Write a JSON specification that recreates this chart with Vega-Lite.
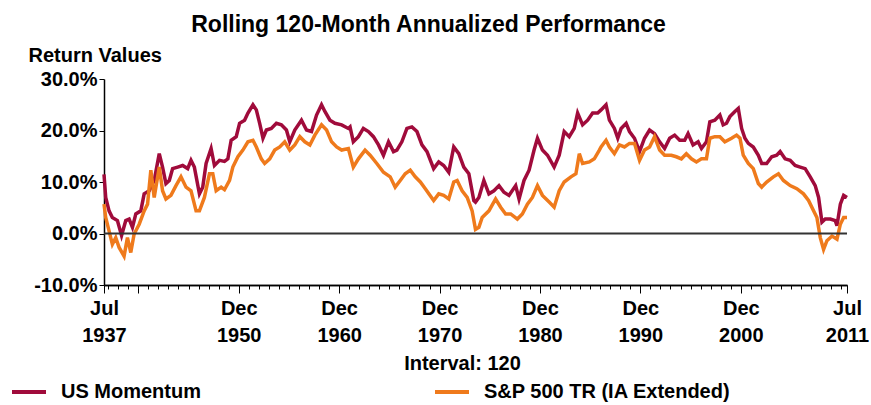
{
  "$schema": "https://vega.github.io/schema/vega-lite/v6.json",
  "width": 743,
  "height": 206,
  "autosize": "none",
  "padding": {"left": 104, "top": 79, "right": 24, "bottom": 120},
  "background": "white",
  "title": {
    "text": "Rolling 120-Month Annualized Performance",
    "fontSize": 23,
    "font": "Liberation Sans",
    "fontWeight": "bold",
    "color": "black",
    "anchor": "middle",
    "frame": "group",
    "dx": -47,
    "dy": 24,
    "offset": 14,
    "baseline": "alphabetic"
  },
  "config": {
    "font": "Liberation Sans",
    "view": {"stroke": null},
    "axis": {
      "labelFont": "Liberation Sans",
      "labelFontWeight": "bold",
      "labelFontSize": 20,
      "labelColor": "black",
      "titleFont": "Liberation Sans",
      "titleFontWeight": "bold",
      "titleFontSize": 20,
      "titleColor": "black",
      "domainColor": "black",
      "tickColor": "black",
      "domainWidth": 1.5,
      "tickWidth": 1,
      "grid": false
    },
    "legend": {
      "labelFont": "Liberation Sans",
      "labelFontWeight": "bold",
      "labelFontSize": 20,
      "labelColor": "black"
    }
  },
  "datasets": {
    "mom": [
      {"d": "1937-07", "v": 11.5}, {"d": "1937-09", "v": 7.0}, {"d": "1938-01", "v": 4.4}, {"d": "1938-05", "v": 3.1},
      {"d": "1938-11", "v": 2.5}, {"d": "1939-04", "v": -0.4}, {"d": "1939-09", "v": 2.5}, {"d": "1940-01", "v": 2.8},
      {"d": "1940-05", "v": 1.2}, {"d": "1940-09", "v": 3.8}, {"d": "1941-03", "v": 4.4}, {"d": "1941-07", "v": 7.7},
      {"d": "1942-01", "v": 8.3}, {"d": "1942-07", "v": 10.3}, {"d": "1943-01", "v": 15.5}, {"d": "1943-05", "v": 12.9},
      {"d": "1943-09", "v": 9.7}, {"d": "1944-01", "v": 10.3}, {"d": "1944-05", "v": 12.6}, {"d": "1944-11", "v": 12.9},
      {"d": "1945-05", "v": 13.2}, {"d": "1945-11", "v": 12.6}, {"d": "1946-03", "v": 14.2}, {"d": "1946-07", "v": 12.9},
      {"d": "1947-01", "v": 7.7}, {"d": "1947-05", "v": 9.0}, {"d": "1947-09", "v": 13.6}, {"d": "1948-03", "v": 16.5},
      {"d": "1948-07", "v": 13.2}, {"d": "1949-01", "v": 14.2}, {"d": "1949-07", "v": 14.0}, {"d": "1949-11", "v": 14.5},
      {"d": "1950-03", "v": 18.1}, {"d": "1950-09", "v": 18.8}, {"d": "1951-01", "v": 21.4}, {"d": "1951-07", "v": 22.0},
      {"d": "1951-11", "v": 23.4}, {"d": "1952-05", "v": 25.0}, {"d": "1952-09", "v": 24.0}, {"d": "1953-01", "v": 21.4},
      {"d": "1953-05", "v": 18.5}, {"d": "1953-09", "v": 20.1}, {"d": "1954-03", "v": 20.4}, {"d": "1954-09", "v": 21.4},
      {"d": "1955-03", "v": 21.1}, {"d": "1955-09", "v": 20.1}, {"d": "1956-01", "v": 17.8}, {"d": "1956-07", "v": 20.1},
      {"d": "1957-03", "v": 22.0}, {"d": "1957-09", "v": 20.1}, {"d": "1958-03", "v": 19.8}, {"d": "1958-09", "v": 23.0},
      {"d": "1959-03", "v": 25.0}, {"d": "1959-07", "v": 23.7}, {"d": "1960-01", "v": 22.0}, {"d": "1960-07", "v": 21.4},
      {"d": "1961-03", "v": 21.1}, {"d": "1961-11", "v": 20.4}, {"d": "1962-01", "v": 20.7}, {"d": "1962-05", "v": 17.8},
      {"d": "1962-11", "v": 18.8}, {"d": "1963-05", "v": 20.4}, {"d": "1963-11", "v": 19.8}, {"d": "1964-05", "v": 18.8},
      {"d": "1964-11", "v": 17.2}, {"d": "1965-05", "v": 15.2}, {"d": "1965-11", "v": 17.8}, {"d": "1966-05", "v": 15.9},
      {"d": "1966-09", "v": 16.2}, {"d": "1967-03", "v": 17.8}, {"d": "1967-09", "v": 20.4}, {"d": "1968-03", "v": 20.7},
      {"d": "1968-09", "v": 19.8}, {"d": "1969-03", "v": 17.2}, {"d": "1969-09", "v": 15.9}, {"d": "1970-05", "v": 12.6},
      {"d": "1970-11", "v": 13.9}, {"d": "1971-05", "v": 13.2}, {"d": "1971-11", "v": 11.9}, {"d": "1972-05", "v": 16.8},
      {"d": "1972-11", "v": 15.5}, {"d": "1973-05", "v": 12.9}, {"d": "1973-11", "v": 11.6}, {"d": "1974-05", "v": 6.4},
      {"d": "1974-07", "v": 6.1}, {"d": "1974-11", "v": 7.0}, {"d": "1975-05", "v": 10.3}, {"d": "1975-11", "v": 7.7},
      {"d": "1976-05", "v": 8.3}, {"d": "1976-11", "v": 9.3}, {"d": "1977-05", "v": 8.0}, {"d": "1977-11", "v": 7.4},
      {"d": "1978-07", "v": 9.3}, {"d": "1978-11", "v": 6.7}, {"d": "1979-05", "v": 10.3}, {"d": "1979-11", "v": 12.3},
      {"d": "1980-05", "v": 16.2}, {"d": "1980-09", "v": 18.5}, {"d": "1981-03", "v": 16.2}, {"d": "1981-09", "v": 15.2},
      {"d": "1982-05", "v": 12.9}, {"d": "1982-11", "v": 15.2}, {"d": "1983-05", "v": 19.8}, {"d": "1983-11", "v": 18.8},
      {"d": "1984-05", "v": 20.4}, {"d": "1984-09", "v": 23.4}, {"d": "1985-03", "v": 21.1}, {"d": "1985-09", "v": 22.0},
      {"d": "1986-03", "v": 23.4}, {"d": "1986-09", "v": 23.4}, {"d": "1987-01", "v": 24.0}, {"d": "1987-07", "v": 25.0},
      {"d": "1987-11", "v": 22.0}, {"d": "1988-05", "v": 20.4}, {"d": "1988-09", "v": 18.5}, {"d": "1989-01", "v": 20.4},
      {"d": "1989-07", "v": 21.4}, {"d": "1989-11", "v": 19.8}, {"d": "1990-05", "v": 18.5}, {"d": "1990-11", "v": 15.9},
      {"d": "1991-05", "v": 18.5}, {"d": "1991-11", "v": 20.1}, {"d": "1992-05", "v": 19.4}, {"d": "1992-11", "v": 17.8},
      {"d": "1993-05", "v": 16.5}, {"d": "1993-11", "v": 18.5}, {"d": "1994-05", "v": 19.1}, {"d": "1994-11", "v": 18.1},
      {"d": "1995-05", "v": 18.1}, {"d": "1995-09", "v": 19.4}, {"d": "1996-03", "v": 17.2}, {"d": "1996-09", "v": 17.8},
      {"d": "1997-01", "v": 16.5}, {"d": "1997-07", "v": 17.8}, {"d": "1997-11", "v": 21.7}, {"d": "1998-05", "v": 22.0},
      {"d": "1998-11", "v": 23.0}, {"d": "1999-03", "v": 21.1}, {"d": "1999-07", "v": 21.4}, {"d": "1999-11", "v": 22.7},
      {"d": "2000-05", "v": 23.7}, {"d": "2000-09", "v": 24.3}, {"d": "2001-01", "v": 20.4}, {"d": "2001-05", "v": 18.5},
      {"d": "2001-09", "v": 17.5}, {"d": "2002-03", "v": 16.8}, {"d": "2002-09", "v": 15.2}, {"d": "2003-01", "v": 13.6},
      {"d": "2003-07", "v": 13.6}, {"d": "2004-01", "v": 14.9}, {"d": "2004-07", "v": 15.2}, {"d": "2004-11", "v": 15.9},
      {"d": "2005-05", "v": 14.5}, {"d": "2005-11", "v": 14.2}, {"d": "2006-05", "v": 13.2}, {"d": "2006-11", "v": 12.9},
      {"d": "2007-05", "v": 12.6}, {"d": "2007-11", "v": 11.0}, {"d": "2008-05", "v": 9.3}, {"d": "2008-09", "v": 7.0},
      {"d": "2009-01", "v": 2.2}, {"d": "2009-05", "v": 2.8}, {"d": "2009-11", "v": 2.8}, {"d": "2010-05", "v": 2.5},
      {"d": "2010-07", "v": 1.5}, {"d": "2010-11", "v": 5.7}, {"d": "2011-03", "v": 7.4}, {"d": "2011-07", "v": 7.0}
    ],
    "sp": [
      {"d": "1937-07", "v": 5.7}, {"d": "1937-09", "v": 3.1}, {"d": "1938-01", "v": 0.5}, {"d": "1938-05", "v": -2.1},
      {"d": "1938-09", "v": -0.8}, {"d": "1939-01", "v": -2.7}, {"d": "1939-07", "v": -4.4}, {"d": "1939-11", "v": -0.8},
      {"d": "1940-03", "v": -3.7}, {"d": "1940-07", "v": -0.1}, {"d": "1941-01", "v": 1.8}, {"d": "1941-07", "v": 4.4},
      {"d": "1941-11", "v": 5.7}, {"d": "1942-03", "v": 12.3}, {"d": "1942-07", "v": 7.0}, {"d": "1943-01", "v": 12.9},
      {"d": "1943-05", "v": 8.3}, {"d": "1943-09", "v": 6.7}, {"d": "1944-03", "v": 7.4}, {"d": "1944-09", "v": 9.3},
      {"d": "1945-03", "v": 11.0}, {"d": "1945-09", "v": 9.0}, {"d": "1946-03", "v": 8.3}, {"d": "1946-09", "v": 4.4},
      {"d": "1947-01", "v": 4.4}, {"d": "1947-07", "v": 7.0}, {"d": "1948-01", "v": 11.6}, {"d": "1948-05", "v": 11.6},
      {"d": "1948-09", "v": 8.3}, {"d": "1949-03", "v": 9.0}, {"d": "1949-07", "v": 8.5}, {"d": "1950-01", "v": 10.3},
      {"d": "1950-05", "v": 12.9}, {"d": "1950-11", "v": 14.9}, {"d": "1951-05", "v": 16.2}, {"d": "1951-11", "v": 17.8},
      {"d": "1952-05", "v": 18.1}, {"d": "1952-09", "v": 16.8}, {"d": "1953-03", "v": 14.5}, {"d": "1953-07", "v": 13.6},
      {"d": "1954-01", "v": 14.5}, {"d": "1954-07", "v": 16.2}, {"d": "1955-01", "v": 16.8}, {"d": "1955-07", "v": 17.8},
      {"d": "1956-01", "v": 16.2}, {"d": "1956-07", "v": 17.2}, {"d": "1957-01", "v": 18.8}, {"d": "1957-07", "v": 17.8},
      {"d": "1958-01", "v": 17.2}, {"d": "1958-07", "v": 19.1}, {"d": "1959-03", "v": 21.1}, {"d": "1959-09", "v": 20.1},
      {"d": "1960-03", "v": 17.8}, {"d": "1960-09", "v": 16.8}, {"d": "1961-03", "v": 16.2}, {"d": "1961-11", "v": 16.5},
      {"d": "1962-05", "v": 12.9}, {"d": "1962-11", "v": 14.5}, {"d": "1963-07", "v": 16.2}, {"d": "1964-01", "v": 15.2},
      {"d": "1964-09", "v": 13.6}, {"d": "1965-05", "v": 11.9}, {"d": "1966-01", "v": 11.0}, {"d": "1966-07", "v": 9.0},
      {"d": "1967-01", "v": 10.3}, {"d": "1967-07", "v": 11.6}, {"d": "1968-01", "v": 12.3}, {"d": "1968-07", "v": 11.0},
      {"d": "1969-01", "v": 10.0}, {"d": "1969-07", "v": 8.7}, {"d": "1970-05", "v": 6.4}, {"d": "1970-11", "v": 7.7},
      {"d": "1971-05", "v": 7.4}, {"d": "1971-11", "v": 6.7}, {"d": "1972-05", "v": 10.0}, {"d": "1972-09", "v": 10.3},
      {"d": "1973-03", "v": 8.3}, {"d": "1973-09", "v": 7.0}, {"d": "1974-03", "v": 4.4}, {"d": "1974-07", "v": 0.8},
      {"d": "1974-11", "v": 1.2}, {"d": "1975-03", "v": 3.1}, {"d": "1975-11", "v": 4.4}, {"d": "1976-07", "v": 6.7},
      {"d": "1977-01", "v": 5.1}, {"d": "1977-07", "v": 3.8}, {"d": "1978-01", "v": 3.8}, {"d": "1978-09", "v": 2.8},
      {"d": "1979-03", "v": 3.8}, {"d": "1979-09", "v": 5.7}, {"d": "1980-03", "v": 7.0}, {"d": "1980-09", "v": 9.3},
      {"d": "1981-03", "v": 7.4}, {"d": "1981-11", "v": 6.1}, {"d": "1982-05", "v": 5.1}, {"d": "1982-11", "v": 8.3},
      {"d": "1983-05", "v": 10.0}, {"d": "1984-01", "v": 11.0}, {"d": "1984-07", "v": 11.6}, {"d": "1984-11", "v": 15.5},
      {"d": "1985-03", "v": 13.6}, {"d": "1985-11", "v": 13.9}, {"d": "1986-05", "v": 14.5}, {"d": "1986-11", "v": 16.2},
      {"d": "1987-01", "v": 16.8}, {"d": "1987-07", "v": 18.1}, {"d": "1987-11", "v": 16.8}, {"d": "1988-05", "v": 15.5},
      {"d": "1988-11", "v": 17.2}, {"d": "1989-05", "v": 16.8}, {"d": "1989-11", "v": 17.5}, {"d": "1990-05", "v": 17.5},
      {"d": "1990-11", "v": 14.2}, {"d": "1991-05", "v": 16.2}, {"d": "1991-11", "v": 16.8}, {"d": "1992-05", "v": 18.8},
      {"d": "1992-11", "v": 16.2}, {"d": "1993-05", "v": 15.2}, {"d": "1994-01", "v": 15.2}, {"d": "1994-07", "v": 14.9},
      {"d": "1995-01", "v": 14.5}, {"d": "1995-07", "v": 15.5}, {"d": "1996-01", "v": 14.5}, {"d": "1996-07", "v": 13.9},
      {"d": "1997-01", "v": 14.5}, {"d": "1997-07", "v": 14.5}, {"d": "1997-11", "v": 18.5}, {"d": "1998-05", "v": 18.8},
      {"d": "1998-11", "v": 18.8}, {"d": "1999-05", "v": 17.8}, {"d": "2000-01", "v": 18.5}, {"d": "2000-07", "v": 19.1},
      {"d": "2000-11", "v": 18.5}, {"d": "2001-03", "v": 15.2}, {"d": "2001-09", "v": 13.6}, {"d": "2002-03", "v": 12.6},
      {"d": "2002-09", "v": 9.7}, {"d": "2003-01", "v": 9.0}, {"d": "2003-07", "v": 10.0}, {"d": "2004-03", "v": 11.0},
      {"d": "2004-09", "v": 11.6}, {"d": "2005-03", "v": 10.3}, {"d": "2005-11", "v": 9.3}, {"d": "2006-07", "v": 8.7},
      {"d": "2007-03", "v": 7.7}, {"d": "2007-09", "v": 6.4}, {"d": "2008-03", "v": 4.4}, {"d": "2008-07", "v": 3.1},
      {"d": "2008-11", "v": -0.8}, {"d": "2009-03", "v": -3.1}, {"d": "2009-07", "v": -1.4}, {"d": "2010-01", "v": -0.5},
      {"d": "2010-07", "v": -1.1}, {"d": "2010-11", "v": 1.8}, {"d": "2011-03", "v": 3.1}, {"d": "2011-07", "v": 3.1}
    ]
  },
  "layer": [
    {
      "data": {"name": "mom"},
      "mark": {"type": "line", "strokeWidth": 3.5, "strokeJoin": "miter"},
      "encoding": {
        "x": {
          "field": "d", "type": "temporal",
          "scale": {"type": "utc", "nice": false,
            "domain": [{"year": 1937, "month": 7, "date": 1, "utc": true}, {"year": 2011, "month": 7, "date": 1, "utc": true}]},
          "axis": {
            "orient": "bottom", "title": null, "labels": false, "tickSize": 4,
            "values": [
              {"year": 1937, "month": 12, "date": 1, "utc": true}, {"year": 1938, "month": 12, "date": 1, "utc": true},
              {"year": 1939, "month": 12, "date": 1, "utc": true}, {"year": 1941, "month": 12, "date": 1, "utc": true},
              {"year": 1942, "month": 12, "date": 1, "utc": true}, {"year": 1943, "month": 12, "date": 1, "utc": true},
              {"year": 1944, "month": 12, "date": 1, "utc": true}, {"year": 1945, "month": 12, "date": 1, "utc": true},
              {"year": 1946, "month": 12, "date": 1, "utc": true}, {"year": 1947, "month": 12, "date": 1, "utc": true},
              {"year": 1948, "month": 12, "date": 1, "utc": true}, {"year": 1949, "month": 12, "date": 1, "utc": true},
              {"year": 1951, "month": 12, "date": 1, "utc": true}, {"year": 1952, "month": 12, "date": 1, "utc": true},
              {"year": 1953, "month": 12, "date": 1, "utc": true}, {"year": 1954, "month": 12, "date": 1, "utc": true},
              {"year": 1955, "month": 12, "date": 1, "utc": true}, {"year": 1956, "month": 12, "date": 1, "utc": true},
              {"year": 1957, "month": 12, "date": 1, "utc": true}, {"year": 1958, "month": 12, "date": 1, "utc": true},
              {"year": 1959, "month": 12, "date": 1, "utc": true}, {"year": 1961, "month": 12, "date": 1, "utc": true},
              {"year": 1962, "month": 12, "date": 1, "utc": true}, {"year": 1963, "month": 12, "date": 1, "utc": true},
              {"year": 1964, "month": 12, "date": 1, "utc": true}, {"year": 1965, "month": 12, "date": 1, "utc": true},
              {"year": 1966, "month": 12, "date": 1, "utc": true}, {"year": 1967, "month": 12, "date": 1, "utc": true},
              {"year": 1968, "month": 12, "date": 1, "utc": true}, {"year": 1969, "month": 12, "date": 1, "utc": true},
              {"year": 1971, "month": 12, "date": 1, "utc": true}, {"year": 1972, "month": 12, "date": 1, "utc": true},
              {"year": 1973, "month": 12, "date": 1, "utc": true}, {"year": 1974, "month": 12, "date": 1, "utc": true},
              {"year": 1975, "month": 12, "date": 1, "utc": true}, {"year": 1976, "month": 12, "date": 1, "utc": true},
              {"year": 1977, "month": 12, "date": 1, "utc": true}, {"year": 1978, "month": 12, "date": 1, "utc": true},
              {"year": 1979, "month": 12, "date": 1, "utc": true}, {"year": 1981, "month": 12, "date": 1, "utc": true},
              {"year": 1982, "month": 12, "date": 1, "utc": true}, {"year": 1983, "month": 12, "date": 1, "utc": true},
              {"year": 1984, "month": 12, "date": 1, "utc": true}, {"year": 1985, "month": 12, "date": 1, "utc": true},
              {"year": 1986, "month": 12, "date": 1, "utc": true}, {"year": 1987, "month": 12, "date": 1, "utc": true},
              {"year": 1988, "month": 12, "date": 1, "utc": true}, {"year": 1989, "month": 12, "date": 1, "utc": true},
              {"year": 1991, "month": 12, "date": 1, "utc": true}, {"year": 1992, "month": 12, "date": 1, "utc": true},
              {"year": 1993, "month": 12, "date": 1, "utc": true}, {"year": 1994, "month": 12, "date": 1, "utc": true},
              {"year": 1995, "month": 12, "date": 1, "utc": true}, {"year": 1996, "month": 12, "date": 1, "utc": true},
              {"year": 1997, "month": 12, "date": 1, "utc": true}, {"year": 1998, "month": 12, "date": 1, "utc": true},
              {"year": 1999, "month": 12, "date": 1, "utc": true}, {"year": 2001, "month": 12, "date": 1, "utc": true},
              {"year": 2002, "month": 12, "date": 1, "utc": true}, {"year": 2003, "month": 12, "date": 1, "utc": true},
              {"year": 2004, "month": 12, "date": 1, "utc": true}, {"year": 2005, "month": 12, "date": 1, "utc": true},
              {"year": 2006, "month": 12, "date": 1, "utc": true}, {"year": 2007, "month": 12, "date": 1, "utc": true},
              {"year": 2008, "month": 12, "date": 1, "utc": true}, {"year": 2009, "month": 12, "date": 1, "utc": true},
              {"year": 2010, "month": 12, "date": 1, "utc": true}
            ]
          }
        },
        "y": {
          "field": "v", "type": "quantitative",
          "scale": {"domain": [-10, 30], "nice": false, "zero": false},
          "axis": {
            "title": "Return Values",
            "titleAngle": 0, "titleAlign": "left", "titleBaseline": "alphabetic",
            "titleX": -76, "titleY": -18,
            "values": [-10, -5, 0, 5, 10, 15, 20, 25, 30],
            "labelExpr": "datum.value % 10 == 0 ? (datum.value < 0 ? '-' : '') + format(abs(datum.value), '.1f') + '%' : ''",
            "tickSize": 5, "labelPadding": 2, "labelBaseline": "middle"
          }
        },
        "color": {
          "datum": "US Momentum", "type": "nominal",
          "scale": {"domain": ["US Momentum", "S&P 500 TR (IA Extended)"], "range": ["#A00B3B", "#EF7A1C"]},
          "legend": {
            "orient": "none", "legendX": -94, "legendY": 294,
            "direction": "horizontal", "columns": 2, "title": null,
            "symbolType": "stroke", "symbolSize": 1156, "symbolStrokeWidth": 4,
            "labelOffset": 13, "columnPadding": 226, "labelLimit": 400
          }
        }
      }
    },
    {
      "data": {"name": "sp"},
      "mark": {"type": "line", "strokeWidth": 3.5, "strokeJoin": "miter"},
      "encoding": {
        "x": {
          "field": "d", "type": "temporal",
          "axis": {
            "orient": "bottom",
            "title": "Interval: 120",
            "titleX": 358, "titleY": 78, "titleAlign": "center", "titleBaseline": "middle",
            "tickSize": 8, "labelPadding": 5, "labelLineHeight": 27,
            "labelOverlap": false, "labelFlush": false, "labelBound": false,
            "values": [
              {"year": 1937, "month": 7, "date": 1, "utc": true},
              {"year": 1940, "month": 12, "date": 1, "utc": true},
              {"year": 1950, "month": 12, "date": 1, "utc": true},
              {"year": 1960, "month": 12, "date": 1, "utc": true},
              {"year": 1970, "month": 12, "date": 1, "utc": true},
              {"year": 1980, "month": 12, "date": 1, "utc": true},
              {"year": 1990, "month": 12, "date": 1, "utc": true},
              {"year": 2000, "month": 12, "date": 1, "utc": true},
              {"year": 2011, "month": 7, "date": 1, "utc": true}
            ],
            "labelExpr": "utcyear(datum.value) == 1940 ? '' : [utcFormat(datum.value, '%b'), utcFormat(datum.value, '%Y')]"
          }
        },
        "y": {"field": "v", "type": "quantitative"},
        "color": {"datum": "S&P 500 TR (IA Extended)", "type": "nominal"}
      }
    },
    {
      "data": {"values": [{}]},
      "mark": {"type": "rule", "color": "#333333", "strokeWidth": 2},
      "encoding": {"y": {"datum": 0, "type": "quantitative"}}
    }
  ],
  "resolve": {"axis": {"x": "independent"}}
}
